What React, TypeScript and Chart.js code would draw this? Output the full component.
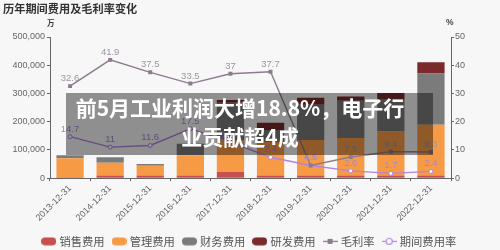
import React, { useEffect, useRef } from 'react';
import { Chart, registerables } from 'chart.js';

Chart.register(...registerables);

const categories = ['2013-12-31', '2014-12-31', '2015-12-31', '2016-12-31', '2017-12-31', '2018-12-31', '2019-12-31', '2020-12-31', '2021-12-31', '2022-12-31'];
const salesExpense = [3000, 10000, 10000, 10000, 22000, 10000, 10000, 10000, 10000, 10000];
const adminExpense = [68000, 45000, 34000, 71000, 113000, 118000, 125000, 132000, 155000, 179000];
const financeExpense = [10000, 19000, 6000, 41000, 132000, 43000, 125000, 132000, 113000, 182000];
const rdExpense = [0, 0, 0, 0, 10000, 25000, 25000, 15000, 24000, 40000];
const grossMargin = [32.6, 41.9, 37.5, 33.5, 37, 37.7, 4.5, 7.5, 9.4, 9.3];
const periodExpenseRate = [14.7, 11, 11.6, 17.5, 12.8, 7.4, 4.5, 2.6, 1.7, 2.4];
const leftTicks = [0, 100000, 200000, 300000, 400000, 500000];
const rightTicks = [0, 10, 20, 30, 40, 50];

const C_SALES = '#c6504d';
const C_ADMIN = '#f79a46';
const C_FIN = '#7b7b7b';
const C_RD = '#7a2a2a';
const C_GM = '#8c7b8c';
const C_PR = '#b283e0';

const LATIN = '"Liberation Sans", Arial, sans-serif';
const CJK = '"Noto Sans CJK SC", "Noto Sans", sans-serif';

function makeIcon(kind: string, color: string): HTMLCanvasElement {
  const c = document.createElement('canvas');
  c.width = 15;
  c.height = 9;
  const ctx = c.getContext('2d')!;
  if (kind === 'bar') {
    ctx.fillStyle = color;
    ctx.beginPath();
    (ctx as any).roundRect(0, 0.5, 15, 8, 4);
    ctx.fill();
  } else if (kind === 'square') {
    ctx.strokeStyle = color;
    ctx.lineWidth = 1.3;
    ctx.beginPath();
    ctx.moveTo(0, 4.5);
    ctx.lineTo(15, 4.5);
    ctx.stroke();
    ctx.fillStyle = color;
    ctx.fillRect(5, 2, 5, 5);
  } else {
    ctx.strokeStyle = color;
    ctx.lineWidth = 1.2;
    ctx.beginPath();
    ctx.moveTo(0, 4.5);
    ctx.lineTo(15, 4.5);
    ctx.stroke();
    ctx.beginPath();
    ctx.arc(7.5, 4.5, 3, 0, Math.PI * 2);
    ctx.fillStyle = '#ffffff';
    ctx.fill();
    ctx.stroke();
  }
  return c;
}

const pointLabelPlugin = {
  id: 'pointLabels',
  afterDatasetsDraw(chart: any) {
    const ctx = chart.ctx;
    chart.data.datasets.forEach((ds: any, i: number) => {
      if (ds.type !== 'line') return;
      const meta = chart.getDatasetMeta(i);
      ctx.save();
      ctx.font = '9.5px ' + LATIN;
      ctx.fillStyle = ds.labelColor;
      ctx.textAlign = 'center';
      ctx.textBaseline = 'alphabetic';
      meta.data.forEach((pt: any, j: number) => {
        ctx.fillText(String(ds.data[j]), pt.x, pt.y - 5);
      });
      ctx.restore();
    });
  },
};

export default function App() {
  const ref = useRef<HTMLCanvasElement>(null);

  useEffect(() => {
    const icons = [
      makeIcon('bar', C_SALES),
      makeIcon('bar', C_ADMIN),
      makeIcon('bar', C_FIN),
      makeIcon('bar', C_RD),
      makeIcon('square', C_GM),
      makeIcon('circle', C_PR),
    ];
    const barCommon = {
      type: 'bar' as const,
      yAxisID: 'y',
      stack: 'cost',
      categoryPercentage: 0.68,
      barPercentage: 1,
      order: 0,
    };
    const chart = new Chart(ref.current!, {
      type: 'bar',
      data: {
        labels: categories,
        datasets: [
          { ...barCommon, label: '销售费用', data: salesExpense, backgroundColor: C_SALES },
          { ...barCommon, label: '管理费用', data: adminExpense, backgroundColor: C_ADMIN },
          { ...barCommon, label: '财务费用', data: financeExpense, backgroundColor: C_FIN },
          { ...barCommon, label: '研发费用', data: rdExpense, backgroundColor: C_RD },
          {
            type: 'line',
            label: '毛利率',
            data: grossMargin,
            yAxisID: 'y1',
            borderColor: C_GM,
            backgroundColor: C_GM,
            borderWidth: 1.4,
            pointStyle: 'rect',
            pointRadius: 1.8,
            pointBackgroundColor: C_GM,
            pointBorderColor: C_GM,
            order: -1,
            labelColor: '#9b96a0',
          } as any,
          {
            type: 'line',
            label: '期间费用率',
            data: periodExpenseRate,
            yAxisID: 'y1',
            borderColor: C_PR,
            backgroundColor: C_PR,
            borderWidth: 1.4,
            pointStyle: 'circle',
            pointRadius: 2,
            pointBackgroundColor: '#ffffff',
            pointBorderColor: C_PR,
            pointBorderWidth: 1,
            order: -1,
            labelColor: '#a985d0',
          } as any,
        ],
      },
      options: {
        responsive: false,
        animation: false,
        layout: { padding: { top: 37, left: 0, right: 0, bottom: 0 } },
        plugins: {
          legend: {
            position: 'bottom',
            labels: {
              usePointStyle: true,
              pointStyleWidth: 10,
              padding: 9.5,
              color: '#555',
              font: { size: 11.3, family: CJK },
              generateLabels: (ch: any) =>
                ch.data.datasets.map((ds: any, i: number) => ({
                  text: ds.label,
                  pointStyle: icons[i],
                  fillStyle: 'rgba(0,0,0,0)',
                  strokeStyle: 'rgba(0,0,0,0)',
                  lineWidth: 0,
                  hidden: false,
                  datasetIndex: i,
                  fontColor: '#555',
                })),
            },
          },
          tooltip: { enabled: false },
          title: { display: false },
        },
        scales: {
          x: {
            stacked: true,
            offset: true,
            grid: { display: true, drawOnChartArea: false, tickLength: 3, color: '#666', offset: true },
            border: { display: true, color: '#666' },
            ticks: {
              minRotation: 45,
              maxRotation: 45,
              autoSkip: false,
              padding: 2,
              color: '#666',
              font: { size: 9, family: LATIN },
            },
            afterFit: (s: any) => {
              s.height = 48;
            },
          },
          y: {
            stacked: true,
            position: 'left',
            min: leftTicks[0],
            max: leftTicks[leftTicks.length - 1],
            afterBuildTicks: (s: any) => {
              s.ticks = leftTicks.map((v) => ({ value: v }));
            },
            grid: { drawOnChartArea: false, tickLength: 3, color: '#666' },
            border: { display: true, color: '#666' },
            ticks: {
              padding: 2,
              color: '#666',
              font: { size: 9, family: LATIN },
              callback: (v: any) => Number(v).toLocaleString('en-US'),
            },
            afterFit: (s: any) => {
              s.width = 50;
            },
          },
          y1: {
            position: 'right',
            min: rightTicks[0],
            max: rightTicks[rightTicks.length - 1],
            afterBuildTicks: (s: any) => {
              s.ticks = rightTicks.map((v) => ({ value: v }));
            },
            grid: { drawOnChartArea: false, tickLength: 3, color: '#666' },
            border: { display: true, color: '#666' },
            ticks: {
              padding: 1,
              color: '#666',
              font: { size: 9, family: LATIN },
            },
            afterFit: (s: any) => {
              s.width = 49;
            },
          },
        },
      } as any,
      plugins: [pointLabelPlugin],
    });
    return () => chart.destroy();
  }, []);

  return (
    <div style={{ position: 'fixed', left: 0, top: 0, width: 500, height: 250, overflow: 'hidden', background: '#f7f7f7' }}>
      <canvas ref={ref} width={500} height={257} style={{ position: 'absolute', left: 0, top: 0, width: 500, height: 257, display: 'block' }} />
      <div style={{ position: 'absolute', left: 3, top: 1, fontFamily: CJK, fontWeight: 700, fontSize: 11.2, lineHeight: '15px', color: '#333', whiteSpace: 'nowrap' }}>
        历年期间费用及毛利率变化
      </div>
      <div style={{ position: 'absolute', left: 47, top: 18, fontFamily: CJK, fontWeight: 700, fontSize: 7.5, lineHeight: '10px', color: '#333' }}>万</div>
      <div style={{ position: 'absolute', left: 446, top: 17, fontFamily: LATIN, fontWeight: 700, fontSize: 8.5, lineHeight: '10px', color: '#444' }}>%</div>
      <div style={{ position: 'absolute', left: 66, top: 93, width: 367, height: 62, background: 'rgba(0,0,0,0.42)' }}>
        <div style={{ position: 'absolute', left: 0, top: 0, width: 348, textAlign: 'center', color: '#ffffff', fontFamily: CJK, fontWeight: 700, fontSize: 21, lineHeight: '29px', whiteSpace: 'nowrap' }}>
          前5月工业利润大增18.8%，电子行
          <br />
          业贡献超4成
        </div>
      </div>
    </div>
  );
}
